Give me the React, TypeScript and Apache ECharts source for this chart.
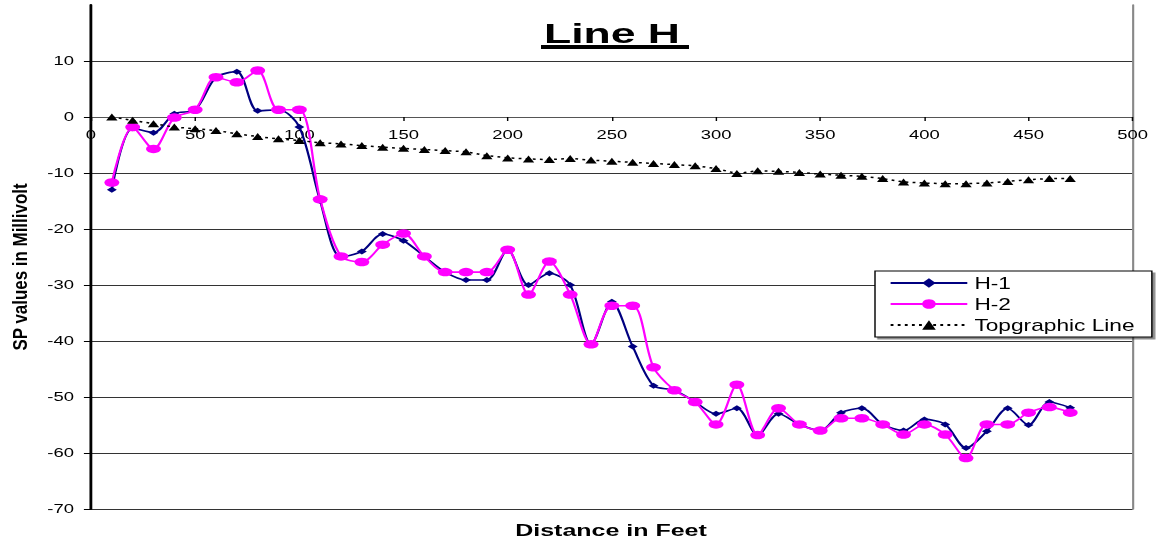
import React, { useEffect, useRef } from "react";
import * as echarts from "echarts";

// ---- data ----
const distances = [10, 20, 30, 40, 50, 60, 70, 80, 90, 100, 110, 120, 130, 140, 150, 160, 170, 180, 190, 200, 210, 220, 230, 240, 250, 260, 270, 280, 290, 300, 310, 320, 330, 340, 350, 360, 370, 380, 390, 400, 410, 420, 430, 440, 450, 460, 470];
const h1 = [-13, -2, -2.8, 0.6, 1.3, 7.1, 8.1, 1.1, 1.3, -1.8, -15, -25, -24, -20.9, -22.1, -24.9, -27.7, -29.1, -29.1, -23.7, -30, -27.9, -30, -40.6, -33, -41, -48, -48.8, -50.9, -53, -52, -56.8, -53, -54.9, -56, -52.8, -52, -54.9, -56, -54, -54.9, -59.1, -56.1, -52, -55, -50.9, -51.9];
const h2 = [-11.7, -1.8, -5.7, -0.1, 1.3, 7.1, 6.2, 8.3, 1.3, 1.3, -14.7, -24.9, -25.9, -22.8, -20.8, -24.9, -27.7, -27.7, -27.7, -23.7, -31.7, -25.8, -31.7, -40.6, -33.7, -33.7, -44.7, -48.8, -50.9, -54.9, -47.8, -56.8, -52, -54.9, -56, -53.8, -53.8, -54.9, -56.7, -54.9, -56.7, -60.9, -54.9, -54.9, -52.8, -51.8, -52.8];
const topo = [0, -0.6, -1.2, -1.8, -2.1, -2.4, -3.0, -3.5, -3.9, -4.2, -4.6, -4.8, -5.1, -5.4, -5.6, -5.8, -6.0, -6.2, -6.9, -7.3, -7.5, -7.6, -7.4, -7.7, -7.9, -8.1, -8.3, -8.5, -8.7, -9.2, -10.1, -9.6, -9.7, -9.9, -10.2, -10.4, -10.6, -11.0, -11.6, -11.8, -11.9, -11.9, -11.8, -11.5, -11.2, -11.0, -11.0];
const seriesNames = ["H-1", "H-2", "Topgraphic Line"];
const xMin = 0, xMax = 500, xStep = 50;
const yMin = -70, yMax = 20, yStep = 10;
const xAxisCrossesAt = 0; // the distance axis sits on the 0 mV line
const titleText = "Line H";
const xTitle = "Distance in Feet";
const yTitle = "SP values in Millivolt";

// the reference picture is stretched horizontally
const S = 1.42;
const W = 1159 / S;
const H = 543;
const GRID_TOP = 5;
const GRID_BOTTOM = 34;
const FONT = "'Liberation Sans', Arial, sans-serif";

const pairs = (ys: number[]) => distances.map((d, i) => [d, ys[i]]);

export default function App() {
  const ref = useRef<HTMLDivElement>(null);
  useEffect(() => {
    const chart = echarts.init(ref.current!, undefined, { renderer: "svg" });
    const plotH = H - GRID_TOP - GRID_BOTTOM;
    // move the x axis from the bottom of the grid up to the crossing value
    const xAxisOffset = -plotH * (xAxisCrossesAt - yMin) / (yMax - yMin);
    chart.setOption({
      animation: false,
      backgroundColor: "#fff",
      textStyle: { fontFamily: FONT },
      grid: { left: 91 / S, right: 26 / S, top: GRID_TOP, bottom: GRID_BOTTOM, containLabel: false },
      xAxis: {
        type: "value",
        min: xMin,
        max: xMax,
        interval: xStep,
        position: "bottom",
        offset: xAxisOffset,
        axisLine: { show: true, onZero: false, lineStyle: { color: "#555", width: 1 } },
        axisTick: { show: true, length: 4, lineStyle: { color: "#000" } },
        axisLabel: { color: "#000", fontSize: 13, fontFamily: FONT, margin: 11 },
        splitLine: { show: false },
      },
      yAxis: [
        {
          type: "value",
          min: yMin,
          max: yMax,
          interval: yStep,
          axisLine: { show: true, onZero: false, lineStyle: { color: "#000", width: 2 } },
          axisTick: { show: true, length: 5, lineStyle: { color: "#000" } },
          axisLabel: { showMaxLabel: false, color: "#000", fontSize: 13, fontFamily: FONT, margin: 12 },
          splitLine: { show: true, showMaxLine: false, lineStyle: { color: "#333", width: 1 } },
        },
        {
          type: "value",
          position: "right",
          min: yMin,
          max: yMax,
          interval: yStep,
          axisLine: { show: true, onZero: false, lineStyle: { color: "#888", width: 1.5 } },
          axisTick: { show: false },
          axisLabel: { show: false },
          splitLine: { show: false },
        },
      ],
      legend: {
        orient: "vertical",
        left: 875 / S,
        top: 271,
        itemWidth: 54,
        itemHeight: 12,
        itemGap: 5,
        padding: [4, 12, 4, 10],
        backgroundColor: "#fff",
        borderColor: "#000",
        borderWidth: 1,
        shadowColor: "rgba(0,0,0,0.45)",
        shadowOffsetX: 2,
        shadowOffsetY: 2,
        shadowBlur: 0,
        textStyle: { fontSize: 16, color: "#000", fontFamily: FONT },
        data: seriesNames,
      },
      graphic: [
        {
          type: "text",
          x: 612 / S,
          y: 33,
          scaleX: 1.12,
          style: {
            text: titleText,
            fontSize: 28,
            fontWeight: "bold",
            fontFamily: FONT,
            fill: "#000",
            align: "center",
            verticalAlign: "middle",
          },
        },
        {
          type: "rect",
          shape: { x: 541 / S, y: 45, width: 148 / S, height: 4 },
          style: { fill: "#000" },
        },
        {
          type: "text",
          x: 611 / S,
          y: 530,
          scaleX: 1.1,
          style: {
            text: xTitle,
            fontSize: 16,
            fontWeight: "bold",
            fontFamily: FONT,
            fill: "#000",
            align: "center",
            verticalAlign: "middle",
          },
        },
        {
          type: "text",
          x: 20 / S,
          y: 267,
          rotation: Math.PI / 2,
          scaleX: 1.21,
          style: {
            text: yTitle,
            fontSize: 14,
            fontWeight: "bold",
            fontFamily: FONT,
            fill: "#000",
            align: "center",
            verticalAlign: "middle",
          },
        },
      ],
      series: [
        {
          name: seriesNames[0],
          type: "line",
          data: pairs(h1),
          smooth: 0.3,
          symbol: "diamond",
          symbolSize: [7, 6],
          color: "#000080",
          itemStyle: { color: "#000080" },
          lineStyle: { color: "#000080", width: 1.6 },
        },
        {
          name: seriesNames[1],
          type: "line",
          data: pairs(h2),
          smooth: 0.3,
          symbol: "circle",
          symbolSize: [10.5, 8.5],
          color: "#FF00FF",
          itemStyle: { color: "#FF00FF" },
          lineStyle: { color: "#FF00FF", width: 1.6 },
        },
        {
          name: seriesNames[2],
          type: "line",
          data: pairs(topo),
          smooth: false,
          symbol: "triangle",
          symbolSize: [8, 7],
          color: "#000",
          itemStyle: { color: "#000" },
          lineStyle: { color: "#000", width: 1.5, type: [2, 3] },
        },
      ],
    });
    return () => chart.dispose();
  }, []);
  return (
    <div style={{ position: "absolute", left: 0, top: 0, width: 1159, height: H, overflow: "hidden", background: "#fff" }}>
      <div ref={ref} style={{ width: W, height: H, transform: `scaleX(${S})`, transformOrigin: "0 0" }} />
    </div>
  );
}
